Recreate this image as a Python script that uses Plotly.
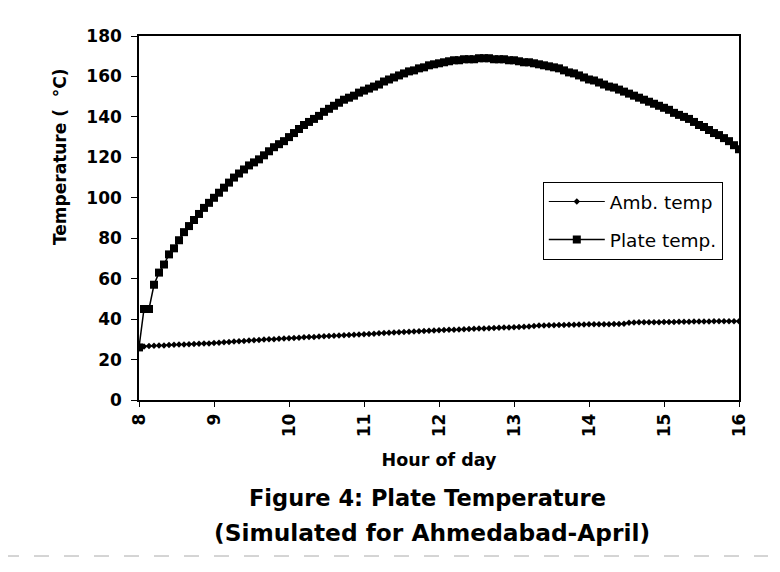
import plotly.graph_objects as go

hours_start = 8
steps_per_hour = 15
n_points = 121
hours = [hours_start + i / steps_per_hour for i in range(n_points)]

plate_temp = (
    [26, 45, 45, 57, 63, 67, 72, 75, 79, 83, 86, 89, 92, 95, 97.5]
    + [100, 102.5, 105, 107.5, 110, 112, 114, 116, 117.5, 119, 121, 123, 125, 126.5, 128]
    + [130, 132, 134, 136, 137.5, 139, 140.5, 142.5, 144, 145.5, 147, 148.5, 149.5, 150.5, 152]
    + [153, 154, 155, 156, 157.5, 158.5, 159.5, 160.5, 161.5, 162.5, 163, 164, 164.5, 165.5, 166]
    + [166.5, 167, 167.5, 168, 168, 168.5, 168.5, 168.5, 169, 169, 169, 168.5, 168.5, 168.5, 168]
    + [168, 167.5, 167, 167, 166.5, 166, 165.5, 165, 164.5, 164, 163, 162, 161.5, 160.5, 159.5]
    + [158.5, 158, 157, 156, 155, 154.5, 153.5, 152.5, 151.5, 150.5, 149.5, 148.5, 147.5, 146.5, 145.5]
    + [144.5, 143.5, 142, 141, 140, 139, 137.5, 136, 135, 133.5, 132, 131, 129.5, 128, 126]
    + [124]
)

amb_temp = (
    [26.5, 26.5, 26.7, 26.8, 27, 27, 27.2, 27.3, 27.4, 27.5, 27.6, 27.7, 27.8, 27.9, 28]
    + [28.2, 28.3, 28.5, 28.7, 28.9, 29, 29.2, 29.4, 29.6, 29.7, 29.9, 30, 30.1, 30.3, 30.4]
    + [30.5, 30.6, 30.8, 31, 31.1, 31.2, 31.4, 31.5, 31.6, 31.8, 31.9, 32, 32.1, 32.3, 32.4]
    + [32.5, 32.6, 32.8, 33, 33.1, 33.2, 33.4, 33.5, 33.6, 33.8, 33.9, 34, 34.1, 34.3, 34.4]
    + [34.5, 34.6, 34.7, 34.8, 34.9, 35, 35.1, 35.2, 35.3, 35.4, 35.5, 35.6, 35.7, 35.8, 35.9]
    + [36, 36.1, 36.2, 36.3, 36.6, 36.8, 36.9, 37, 37, 37.1, 37.1, 37.2, 37.2, 37.3, 37.3]
    + [37.4, 37.4, 37.5, 37.5, 37.5, 37.6, 37.6, 37.7, 38.2, 38.3, 38.4, 38.4, 38.5, 38.5, 38.5]
    + [38.6, 38.6, 38.6, 38.7, 38.7, 38.7, 38.8, 38.8, 38.8, 38.8, 38.9, 38.9, 38.9, 39, 39]
    + [39]
)

x_ticks = [8, 9, 10, 11, 12, 13, 14, 15, 16]
y_ticks = [0, 20, 40, 60, 80, 100, 120, 140, 160, 180]

FONT = "DejaVu Sans, Liberation Sans, Arial, sans-serif"

fig = go.Figure()
fig.add_trace(go.Scatter(
    x=hours, y=amb_temp, name="Amb. temp", mode="lines+markers",
    legendgroup="a",
    line=dict(color="black", width=1),
    marker=dict(symbol="diamond", size=5, color="black"),
))
fig.add_trace(go.Scatter(
    x=hours, y=plate_temp, name="Plate temp.", mode="lines+markers",
    legendgroup="b",
    line=dict(color="black", width=1.5),
    marker=dict(symbol="square", size=8, color="black"),
))

fig.update_layout(
    width=780, height=572,
    margin=dict(l=131, r=49, t=28, b=180),
    paper_bgcolor="white", plot_bgcolor="white",
    font=dict(family=FONT, color="black"),
    showlegend=True,
    legend=dict(
        x=0.673, y=0.599, xanchor="left", yanchor="top",
        bgcolor="white", bordercolor="black", borderwidth=1,
        font=dict(size=18.5, family=FONT, color="black"),
        traceorder="grouped", tracegroupgap=11,
        itemwidth=56,
    ),
    xaxis=dict(
        range=[8, 16], tickmode="array", tickvals=x_ticks,
        ticktext=[str(v) for v in x_ticks], tickangle=-90,
        ticks="outside", ticklen=5, tickcolor="black",
        showgrid=False, zeroline=False,
        showline=True, linecolor="black", linewidth=1.5, mirror=True,
        tickfont=dict(size=17, family=FONT, color="black", weight="bold"),
        title=dict(text="<b>Hour of day</b>", font=dict(size=17.5, family=FONT), standoff=18),
    ),
    yaxis=dict(
        range=[0, 180], tickmode="array", tickvals=y_ticks,
        ticks="outside", ticklen=6, tickcolor="black",
        ticklabelstandoff=6,
        showgrid=False, zeroline=False,
        showline=True, linecolor="black", linewidth=1.5, mirror=True,
        tickfont=dict(size=17, family=FONT, color="black", weight="bold"),
    ),
)

# y-axis title (sits above the axis centre in the original)
fig.add_annotation(
    text="<b>Temperature (  °C)</b>", xref="paper", yref="paper",
    x=(60 - 139) / 600, y=(400 - 157) / 364, xanchor="center", yanchor="middle",
    textangle=-90, showarrow=False,
    font=dict(size=17, family=FONT, color="black"),
)

fig.add_annotation(
    text="<b>Figure 4: Plate Temperature</b>", xref="paper", yref="paper",
    x=0.481, y=-0.269, xanchor="center", yanchor="middle", showarrow=False,
    font=dict(size=22.5, family=FONT, color="black"),
)
fig.add_annotation(
    text="<b>(Simulated for Ahmedabad-April)</b>", xref="paper", yref="paper",
    x=0.4875, y=-0.363, xanchor="center", yanchor="middle", showarrow=False,
    font=dict(size=23.3, family=FONT, color="black"),
)

# faint outer frame of the scanned figure
fig.add_shape(type="line", xref="paper", yref="paper",
              x0=(4 - 139) / 600, x1=(768 - 139) / 600, y0=(400 - 556) / 364, y1=(400 - 556) / 364,
              line=dict(color="#aaaaaa", width=1, dash="longdash"))

fig.write_html("out.html")
